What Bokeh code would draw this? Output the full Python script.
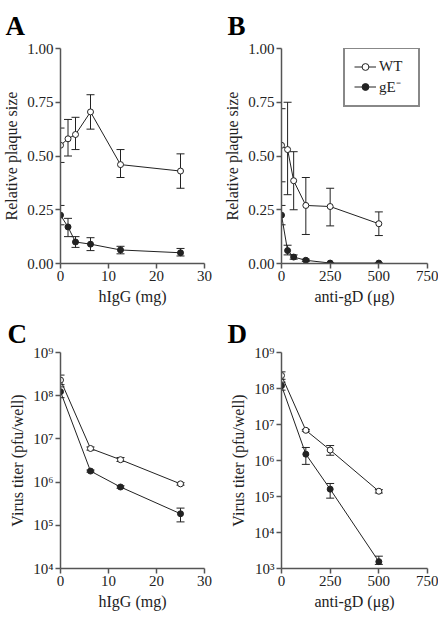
from bokeh.plotting import figure
from bokeh.layouts import gridplot
from bokeh.models import (Range1d, ColumnDataSource, Whisker, TeeHead, Legend,
                          LegendItem, CustomJSTickFormatter)
from bokeh.embed import file_html
from bokeh.resources import INLINE

# ---------------- data ----------------
# Panel A: relative plaque size vs hIgG (mg)
a_x = [0, 1.5625, 3.125, 6.25, 12.5, 25]
a_wt = [0.55, 0.58, 0.60, 0.705, 0.46, 0.43]
a_wt_lo = [0.47, 0.50, 0.53, 0.625, 0.40, 0.35]
a_wt_hi = [0.63, 0.67, 0.68, 0.785, 0.53, 0.51]
a_ge = [0.225, 0.17, 0.10, 0.09, 0.063, 0.05]
a_ge_lo = [0.18, 0.125, 0.075, 0.06, 0.045, 0.035]
a_ge_hi = [0.27, 0.21, 0.125, 0.12, 0.08, 0.07]

# Panel B: relative plaque size vs anti-gD (ug)
b_x = [0, 31.25, 62.5, 125, 250, 500]
b_wt = [0.55, 0.53, 0.385, 0.27, 0.265, 0.185]
b_wt_lo = [0.38, 0.32, 0.25, 0.135, 0.175, 0.13]
b_wt_hi = [0.72, 0.75, 0.52, 0.40, 0.35, 0.24]
b_ge = [0.225, 0.06, 0.03, 0.015, 0.002, 0.002]
b_ge_lo = [0.18, 0.04, 0.02, 0.01, 0.002, 0.002]
b_ge_hi = [0.27, 0.085, 0.04, 0.02, 0.002, 0.002]

# Panel C: virus titer vs hIgG (mg)
c_x = [0, 6.25, 12.5, 25]
c_wt = [2.3e8, 6.0e6, 3.3e6, 9.1e5]
c_wt_lo = [1.8e8, 5.5e6, 3.0e6, 8.5e5]
c_wt_hi = [3.0e8, 6.5e6, 3.7e6, 9.7e5]
c_ge = [1.24e8, 1.8e6, 7.7e5, 1.85e5]
c_ge_lo = [0.9e8, 1.7e6, 7.2e5, 1.2e5]
c_ge_hi = [1.6e8, 1.9e6, 8.2e5, 2.5e5]

# Panel D: virus titer vs anti-gD (ug)
d_x = [0, 125, 250, 500]
d_wt = [2.3e8, 6.9e6, 1.95e6, 1.4e5]
d_wt_lo = [1.8e8, 6.5e6, 1.4e6, 1.25e5]
d_wt_hi = [2.9e8, 7.3e6, 2.6e6, 1.55e5]
d_ge = [1.2e8, 1.5e6, 1.6e5, 1.55e3]
d_ge_lo = [0.9e8, 7.8e5, 9.0e4, 1.3e3]
d_ge_hi = [1.5e8, 2.3e6, 2.3e5, 2.2e3]

lin_ticks = [0, 0.25, 0.5, 0.75, 1.0]
x_ticks_igg = [0, 10, 20, 30]
x_ticks_gd = [0, 250, 500, 750]
c_ticks = [1e4, 1e5, 1e6, 1e7, 1e8, 1e9]
d_ticks = [1e3, 1e4, 1e5, 1e6, 1e7, 1e8, 1e9]

series_names = ["WT", "gE\u207b"]

FONT = "Liberation Serif"
INK = "#222222"
AX = "#555555"

log_fmt = CustomJSTickFormatter(code="""
const sup = {"0":"\u2070","1":"\u00b9","2":"\u00b2","3":"\u00b3","4":"\u2074","5":"\u2075","6":"\u2076","7":"\u2077","8":"\u2078","9":"\u2079","-":"\u207b"};
const e = Math.round(Math.log10(tick));
return "10" + String(e).split("").map(c => sup[c]).join("");
""")
lin_fmt = CustomJSTickFormatter(code="return tick.toFixed(2);")


def make_fig(w, h, xr, yr, log, xt, yt, xlabel, ylabel, bl, br, bt, bb, letter, loff, lstand):
    p = figure(width=w, height=h, x_range=Range1d(*xr), y_range=Range1d(*yr),
               y_axis_type="log" if log else "linear",
               output_backend="svg", toolbar_location=None,
               min_border_left=bl, min_border_right=br, min_border_top=bt, min_border_bottom=bb)
    p.grid.visible = False
    p.outline_line_color = None
    p.background_fill_color = "white"
    p.border_fill_color = "white"
    for ax in (p.xaxis[0], p.yaxis[0]):
        ax.axis_line_color = AX
        ax.axis_line_width = 1.5
        ax.major_tick_line_color = AX
        ax.major_tick_line_width = 1.5
        ax.major_tick_out = 5
        ax.major_tick_in = 0
        ax.minor_tick_line_color = None
        ax.major_label_text_font = FONT
        ax.major_label_text_font_size = "15px"
        ax.major_label_text_color = INK
        ax.axis_label_text_font = FONT
        ax.axis_label_text_font_size = "16px"
        ax.axis_label_text_font_style = "normal"
        ax.axis_label_text_color = INK
    p.xaxis.ticker = xt
    p.yaxis.ticker = yt
    p.xaxis.major_label_standoff = 2
    p.yaxis.major_label_standoff = 2
    p.xaxis.axis_label = xlabel
    p.yaxis.axis_label = ylabel
    p.xaxis.axis_label_standoff = 4
    p.yaxis.axis_label_standoff = 4
    p.yaxis.formatter = log_fmt if log else lin_fmt
    p.title.text = letter
    p.title.text_font = FONT
    p.title.text_font_style = "bold"
    p.title.text_font_size = "27px"
    p.title.text_color = "black"
    p.title.align = "left"
    p.title.offset = loff
    p.title.standoff = lstand
    return p


def add_series(p, x, y, lo, hi, fill):
    src = ColumnDataSource(dict(x=x, y=y, lo=lo, hi=hi))
    p.add_layout(Whisker(base="x", lower="lo", upper="hi", source=src,
                         line_color=INK, line_width=1,
                         upper_head=TeeHead(size=8, line_color=INK, line_width=1),
                         lower_head=TeeHead(size=8, line_color=INK, line_width=1)))
    l = p.line("x", "y", source=src, line_color=INK, line_width=1)
    s = p.scatter("x", "y", source=src, size=6, marker="circle",
                  fill_color=fill, line_color=INK, line_width=1)
    return [l, s]


pA = make_fig(220, 310, (0, 30), (0, 1), False, x_ticks_igg, lin_ticks,
              "hIgG (mg)", "Relative plaque size", 60, 16, 45, 47, "A", -55, 16)
add_series(pA, a_x, a_ge, a_ge_lo, a_ge_hi, INK)
add_series(pA, a_x, a_wt, a_wt_lo, a_wt_hi, "white")

pB = make_fig(218, 310, (0, 750), (0, 1), False, x_ticks_gd, lin_ticks,
              "anti-gD (\u03bcg)", "Relative plaque size", 61, 11, 45, 47, "B", -54, 16)
ge_r = add_series(pB, b_x, b_ge, b_ge_lo, b_ge_hi, INK)
wt_r = add_series(pB, b_x, b_wt, b_wt_lo, b_wt_hi, "white")
leg = Legend(items=[LegendItem(label=series_names[0], renderers=wt_r),
                    LegendItem(label=series_names[1], renderers=ge_r)],
             location=(62, 156))
leg.border_line_color = "#111111"
leg.border_line_width = 2
leg.background_fill_color = "white"
leg.background_fill_alpha = 1
leg.label_text_font = FONT
leg.label_text_font_size = "15px"
leg.label_text_color = INK
leg.glyph_width = 22
leg.glyph_height = 17
leg.label_height = 17
leg.label_width = 30
leg.label_standoff = 3
leg.spacing = 1
leg.padding = 9
leg.margin = 0
pB.add_layout(leg, "center")

pC = make_fig(220, 308, (0, 30), (1e4, 1e9), True, x_ticks_igg, c_ticks,
              "hIgG (mg)", "Virus titer (pfu/well)", 60, 16, 42, 50, "C", -53, 8)
add_series(pC, c_x, c_ge, c_ge_lo, c_ge_hi, INK)
add_series(pC, c_x, c_wt, c_wt_lo, c_wt_hi, "white")

pD = make_fig(218, 308, (0, 750), (1e3, 1e9), True, x_ticks_gd, d_ticks,
              "anti-gD (\u03bcg)", "Virus titer (pfu/well)", 61, 11, 41, 49, "D", -54, 8)
add_series(pD, d_x, d_ge, d_ge_lo, d_ge_hi, INK)
add_series(pD, d_x, d_wt, d_wt_lo, d_wt_hi, "white")

grid = gridplot([[pA, pB], [pC, pD]], toolbar_location=None)

open("out.html", "w").write(file_html(grid, INLINE))
